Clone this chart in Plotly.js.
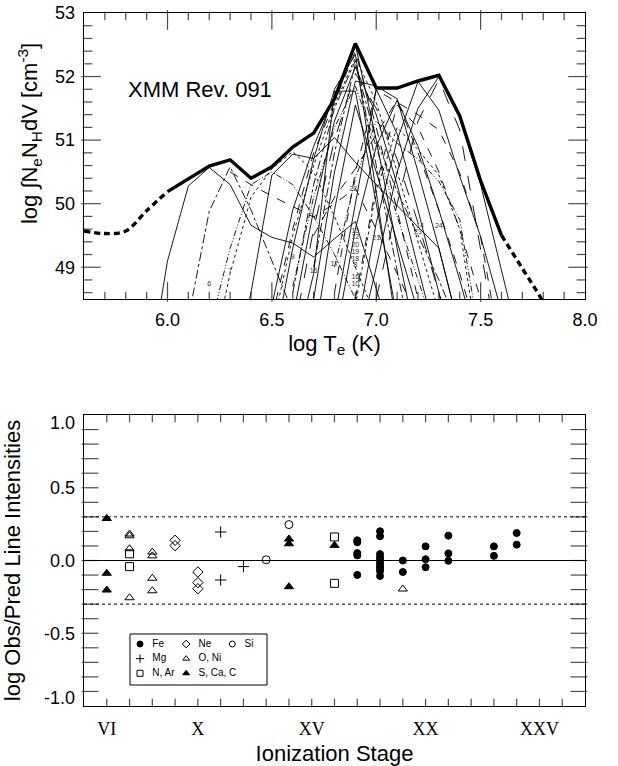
<!DOCTYPE html>
<html><head><meta charset="utf-8">
<script src="https://cdn.plot.ly/plotly-3.0.1.min.js"></script>
<style>html,body{margin:0;padding:0;background:#fff}#chart{width:618px;height:766px}</style>
</head><body><div id="chart"></div>
<script>
// ---------- Top panel: DEM ----------
const tGrid = [5.9,6.0,6.1,6.2,6.3,6.4,6.5,6.6,6.7,6.8,6.9,7.0,7.1,7.2,7.3,7.4,7.5,7.6,7.7,7.8];
const n = null;
// individual ion emission-measure loci (values on tGrid)
const ion06  = [47.1,49.1,50.28,50.57,50.30,49.66,49.47,49.38,49.16,49.45,49.72,48.7,47.6,n,n,n,n,n,n,n];
const ion07  = [n,46.6,48.2,49.88,50.58,49.9,49.1,48.3,n,n,n,n,n,n,n,n,n,n,n,n];
const ion08  = [n,n,n,n,50.5,50.3,50.12,49.95,49.79,50.0,50.24,49.6,48.9,48.2,n,n,n,n,n,n];
const ion09  = [n,n,n,47.4,48.9,50.1,50.55,50.82,50.5,49.8,49.0,48.2,n,n,n,n,n,n,n,n];
const ion10  = [n,n,n,48.0,49.3,50.3,50.5,50.3,49.8,49.2,48.5,n,n,n,n,n,n,n,n,n];
const ion11  = [n,n,n,n,47.0,48.6,50.45,50.78,50.71,51.04,50.65,50.3,49.97,49.64,49.3,48.0,n,n,n,n];
const ion12  = [n,n,n,n,n,n,48.4,49.9,50.9,51.7,52.50,51.0,49.3,47.7,n,n,n,n,n,n];
const ion13  = [n,n,n,n,n,n,48.2,49.6,50.8,51.6,52.40,51.2,49.9,48.5,47.2,n,n,n,n,n];
const ion14  = [n,n,n,n,n,n,48.0,49.5,50.6,51.55,52.30,51.6,50.5,49.4,48.3,n,n,n,n,n];
const ion15  = [n,n,n,n,n,n,n,48.6,50.3,51.5,52.25,50.6,48.9,47.3,n,n,n,n,n,n];
const ion16  = [n,n,n,n,n,n,n,48.2,49.9,51.3,52.15,51.4,50.3,49.0,47.7,n,n,n,n,n];
const ion17  = [n,n,n,n,n,n,n,47.9,49.6,51.0,52.05,51.5,50.7,49.7,48.6,47.5,n,n,n,n];
const ion18  = [n,n,n,n,n,n,n,n,48.5,50.5,51.93,51.85,51.65,50.5,49.3,48.0,n,n,n,n];
const ion19  = [n,n,n,n,n,n,n,47.5,48.9,51.77,51.77,50.0,48.2,n,n,n,n,n,n,n];
const ion20  = [n,n,n,n,n,n,n,48.7,50.1,51.2,51.85,50.9,49.8,48.8,47.8,n,n,n,n,n];
const ion21  = [n,n,n,n,n,n,n,n,47.8,49.9,51.55,50.5,49.4,48.3,n,n,n,n,n,n];
const ion22  = [n,n,n,n,n,n,47.6,49.3,50.7,51.8,52.35,50.2,48.0,n,n,n,n,n,n,n];
const ion23  = [n,n,n,n,n,n,n,n,49.5,50.1,50.55,51.1,51.63,50.8,49.9,48.9,47.8,n,n,n];
const ion24  = [n,n,n,n,n,n,n,n,n,48.2,50.0,51.8,51.1,49.9,48.6,47.3,n,n,n,n];
const ion25  = [n,n,n,n,n,n,n,n,n,48.6,50.5,51.79,51.6,51.4,51.16,50.48,49.48,47.6,n,n];
const ion26  = [n,n,n,n,n,n,n,n,n,47.8,49.6,50.9,51.63,50.9,49.9,48.8,47.6,n,n,n];
const ion27  = [n,n,n,n,n,n,n,n,n,n,48.5,50.3,51.55,51.2,50.5,49.6,48.5,n,n,n];
const ion28  = [n,n,n,n,n,n,n,n,n,n,47.9,49.7,51.0,51.92,51.47,50.43,49.48,48.3,n,n];
const ion29  = [n,n,n,n,n,n,n,n,n,n,47.6,49.0,50.5,51.5,52.0,51.35,50.3,49.0,47.6,n];
const ion30  = [n,n,n,n,n,n,n,n,n,n,n,48.5,50.0,51.3,51.95,51.16,49.3,47.4,n,n];
const ion31  = [n,n,n,n,n,n,n,n,n,n,48.4,50.2,51.2,50.85,50.45,49.6,47.5,n,n,n];
const ion32  = [n,n,n,n,n,n,n,n,n,49.0,50.4,51.3,50.95,50.7,50.35,49.75,47.8,n,n,n];
const ion33  = [n,n,n,n,n,n,n,n,49.0,50.8,52.2,51.0,50.2,49.5,48.8,48.0,n,n,n,n];

const ionCurves = [ion06,ion07,ion08,ion09,ion10,ion11,ion12,ion13,ion14,ion15,ion16,ion17,ion18,ion19,ion20,ion21,ion22,ion23,ion24,ion25,ion26,ion27,ion28,ion29,ion30,ion31,ion32,ion33];
const DDD = '6px,2px,1px,2px,1px,2px';
const ionDash = ['solid','dashdot','dash','dot',DDD,'solid','solid','dash','dot','dashdot','solid','longdash','solid','solid',DDD,'solid','solid','dash','solid','dash','solid','dash','solid','solid','longdash','dot',DDD,'dashdot'];

// DEM envelope (thick) and its extrapolated tails (thick dashed)
const envT = [6.0,6.2,6.3,6.4,6.5,6.6,6.7,6.8,6.9,7.0,7.1,7.2,7.3,7.4,7.5,7.6];
const envV = [50.19,50.59,50.69,50.40,50.58,50.89,51.11,51.65,52.52,51.82,51.82,51.93,52.02,51.38,50.36,49.50];
const lowTailT = [5.6,5.7,5.8,5.9,6.0];
const lowTailV = [49.57,49.53,49.57,49.89,50.19];
const highTailT = [7.6,7.7,7.8,7.9];
const highTailV = [49.50,48.98,48.45,47.8];

// ion stage labels printed in the panel
const ionLabelText = ['6','7','9','16','17','13','12','20','19','18','8','16','10','21','22','14','23','24'];
const ionLabelT = [6.20,6.30,6.60,6.70,6.80,6.90,6.90,6.90,6.90,6.90,6.90,6.90,6.90,7.00,6.89,7.21,7.20,7.30];
const ionLabelV = [48.74,48.93,49.15,48.94,49.04,49.56,49.47,49.35,49.24,49.13,49.03,48.84,48.73,49.45,50.22,49.65,49.55,49.65];

// ---------- Bottom panel: Obs/Pred ----------
const romanVals = [6,10,15,20,25];
const romanText = ['VI','X','XV','XX','XXV'];
const ratioLabelVals = [0.95,0.5,0,-0.5,-0.94];
const ratioLabelText = ['1.0','0.5','0.0','-0.5','-1.0'];

const feStage = [17,17,17,17,17, 18,18,18,18,18,18,18,18,18,18, 19,19, 20,20,20, 21,21,21, 23,23, 24,24];
const feRatio = [0.139,0.125,0.051,0.035,-0.099, 0.201,0.166,0.044,0.023,0.005,-0.018,-0.037,-0.053,-0.072,-0.106, 0.0,-0.079, 0.097,0.009,-0.046, 0.171,0.049,-0.002, 0.097,0.032, 0.189,0.109];
const neStage = [9,9,10,10,10];
const neRatio = [0.139,0.102,-0.079,-0.152,-0.194];
const siStage = [13,14];
const siRatio = [0.005,0.247];
const mgStage = [11,11,12];
const mgRatio = [0.196,-0.134,-0.042];
const oniStage = [7,7,7,7,8,8,8,8,19];
const oniRatio = [0.182,0.170,0.081,-0.256,0.058,0.032,-0.122,-0.208,-0.196];
const narStage = [7,7,16,16];
const narRatio = [0.046,-0.042,0.162,-0.157];
const scacStage = [6,6,6,14,14,14,16];
const scacRatio = [0.289,-0.088,-0.203,0.148,0.115,-0.180,0.104];

const legendNames = ['Fe','Ne','Si','Mg','O, Ni','N, Ar','S, Ca, C'];
const legendSymbols = ['circle','diamond-open','circle-open','cross-thin-open','triangle-up-open','square-open','triangle-up'];
const legendCol = [0,1,2,0,1,0,1];
const legendRow = [0,0,0,1,1,2,2];

const FONT = 'Liberation Sans, Arial, Helvetica, sans-serif';
const traces = [];

// ---- geometry of the two panels (pixels) ----
const W = 618, H = 766, M = {l:84, r:33, t:13, b:60};
const plotW = W - M.l - M.r, plotH = H - M.t - M.b;
const topDom = [0.5873, 1], botDom = [0, 0.4199];
const topX = [5.6, 8.0], topY = [48.5, 53], botX = [5, 27], botY = [-1, 1];
const topHpx = (topDom[1]-topDom[0])*plotH, botHpx = (botDom[1]-botDom[0])*plotH;

// tick marks (inside, all four sides) as line-shaped markers
const rng = (a,b,s)=>{const o=[]; for(let k=Math.round(a/s); k<=Math.round(b/s); k++) o.push(+(k*s).toFixed(4)); return o;};
const isMult = (v,m)=>Math.abs(v/m-Math.round(v/m))<1e-6;
function tickTraces(xa, ya, xR, yR, hpx, xVals, xLen, yVals, yLen){
  const px = (xR[1]-xR[0])/plotW, py = (yR[1]-yR[0])/hpx;
  const vx=[], vy=[], vs=[], hx=[], hy=[], hs=[];
  xVals.forEach(v=>{ const L=xLen(v), d=L/2*py;
    vx.push(v,v); vy.push(yR[0]+d, yR[1]-d); vs.push(L,L); });
  yVals.forEach(v=>{ const L=yLen(v), d=L/2*px;
    hx.push(xR[0]+d, xR[1]-d); hy.push(v,v); hs.push(L,L); });
  const base = {xaxis:xa, yaxis:ya, mode:'markers', hoverinfo:'skip', showlegend:false, cliponaxis:false};
  return [
    Object.assign({x:vx, y:vy, marker:{symbol:'line-ns-open', size:vs, color:'#000', line:{color:'#000', width:1.2}}}, base),
    Object.assign({x:hx, y:hy, marker:{symbol:'line-ew-open', size:hs, color:'#000', line:{color:'#000', width:1.2}}}, base)
  ];
}

ionCurves.forEach((v,i)=>{
  traces.push({x:tGrid, y:v, xaxis:'x', yaxis:'y', mode:'lines', connectgaps:false,
    line:{color:'#000', width:0.9, dash:ionDash[i]}, hoverinfo:'skip', showlegend:false});
});
traces.push({x:envT, y:envV, xaxis:'x', yaxis:'y', mode:'lines', line:{color:'#000', width:3.4}, showlegend:false});
traces.push({x:lowTailT, y:lowTailV, xaxis:'x', yaxis:'y', mode:'lines', line:{color:'#000', width:3.4, dash:'6px,4px', shape:'spline'}, showlegend:false});
traces.push({x:highTailT, y:highTailV, xaxis:'x', yaxis:'y', mode:'lines', line:{color:'#000', width:3.4, dash:'6px,4px', shape:'spline'}, showlegend:false});
traces.push({x:ionLabelT, y:ionLabelV, text:ionLabelText, xaxis:'x', yaxis:'y', mode:'text',
  textfont:{family:FONT, size:7, color:'#333333'}, showlegend:false});
traces.push(...tickTraces('x','y', topX, topY, topHpx,
  rng(5.7,7.9,0.1), v=>isMult(v,0.5)?14:6, rng(48.6,52.8,0.2), v=>isMult(v,1)?14:7));

function pts(xs, ys, sym, size){
  return {x:xs, y:ys, xaxis:'x2', yaxis:'y2', mode:'markers', showlegend:false,
    marker:{symbol:sym, size:size, color:'#000', line:{color:'#000', width:1}}};
}
traces.push(...tickTraces('x2','y2', botX, botY, botHpx, rng(6,26,1), v=>6, rng(-0.9,0.9,0.1), v=>12));
traces.push(pts(feStage, feRatio, 'circle', 7));
traces.push(pts(neStage, neRatio, 'diamond-open', 8));
traces.push(pts(siStage, siRatio, 'circle-open', 8));
traces.push(pts(mgStage, mgRatio, 'cross-thin-open', 8));
traces.push(pts(oniStage, oniRatio, 'triangle-up-open', 8));
traces.push(pts(narStage, narRatio, 'square-open', 8));
traces.push(pts(scacStage, scacRatio, 'triangle-up', 8));

// legend drawn in its own small frame
const legX = legendCol.map(c=>0.22+c*1.01);
const legY = legendRow.map(r=>2.41-0.86*r);
traces.push({x:legX, y:legY, xaxis:'x3', yaxis:'y3', mode:'markers', showlegend:false,
  marker:{symbol:legendSymbols, size:6, color:'#000', line:{color:'#000', width:1}}});
traces.push({x:legX.map(v=>v+0.27), y:legY, text:legendNames, xaxis:'x3', yaxis:'y3', mode:'text',
  textposition:'middle right', textfont:{family:FONT, size:10, color:'#000'}, showlegend:false});

const axBase = {showline:true, linecolor:'#000', linewidth:1.3, mirror:true, ticks:'',
  zeroline:false, showgrid:false, tickfont:{family:FONT, size:18, color:'#000'}};

const shapes = [
  {type:'line', xref:'x2 domain', yref:'y2', x0:0, x1:1, y0:0, y1:0, line:{color:'#000', width:1}},
  {type:'line', xref:'x2 domain', yref:'y2', x0:0, x1:1, y0:0.3, y1:0.3, line:{color:'#000', width:1, dash:'dot'}},
  {type:'line', xref:'x2 domain', yref:'y2', x0:0, x1:1, y0:-0.3, y1:-0.3, line:{color:'#000', width:1, dash:'dot'}},
  {type:'rect', xref:'x3 domain', yref:'y3 domain', x0:0, x1:1, y0:0, y1:1, line:{color:'#000', width:1}, fillcolor:'rgba(0,0,0,0)'}
];

const layout = {
  width:W, height:H, margin:M,
  paper_bgcolor:'#fff', plot_bgcolor:'#fff', showlegend:false,
  font:{family:FONT, color:'#000'},
  xaxis: Object.assign({}, axBase, {domain:[0,1], anchor:'y', range:topX, tick0:6.0, dtick:0.5,
    tickformat:'.1f', ticklabelstandoff:4,
    title:{text:'log T<sub>e</sub> (K)', font:{family:FONT, size:22}, standoff:6}}),
  yaxis: Object.assign({}, axBase, {domain:topDom, anchor:'x', range:topY, dtick:1, ticklabelstandoff:4}),
  xaxis2: Object.assign({}, axBase, {domain:[0,1], anchor:'y2', range:botX, tickmode:'array', tickvals:romanVals, ticktext:romanText,
    ticklabelstandoff:6, tickfont:{family:'Liberation Serif, Times New Roman, serif', size:18, color:'#000'},
    title:{text:'Ionization Stage', font:{family:FONT, size:22}, standoff:10}}),
  yaxis2: Object.assign({}, axBase, {domain:botDom, anchor:'x2', range:botY, tickmode:'array',
    tickvals:ratioLabelVals, ticktext:ratioLabelText, ticklabelstandoff:4,
    title:{text:'log Obs/Pred Line Intensities', font:{family:FONT, size:22}, standoff:18}}),
  xaxis3: {domain:[0.0918,0.3653], anchor:'y3', range:[0,3], visible:false, fixedrange:true},
  yaxis3: {domain:[0.0303,0.1039], anchor:'x3', range:[0,3], visible:false, fixedrange:true},
  shapes: shapes,
  annotations:[
    {text:'XMM Rev. 091', xref:'x', yref:'y', x:5.80, y:51.8, xanchor:'left', yanchor:'middle', showarrow:false,
     font:{family:FONT, size:22, color:'#000'}},
    {text:'log ∫N<sub>e</sub>N<sub>H</sub>dV [cm<sup>-3</sup>]', textangle:-90, xref:'paper', yref:'paper',
     x:-0.1098, y:0.8268, xanchor:'center', yanchor:'middle', showarrow:false, font:{family:FONT, size:22, color:'#000'}}
  ]
};

Plotly.newPlot('chart', traces, layout, {displayModeBar:false, staticPlot:true});
</script>
</body></html>
